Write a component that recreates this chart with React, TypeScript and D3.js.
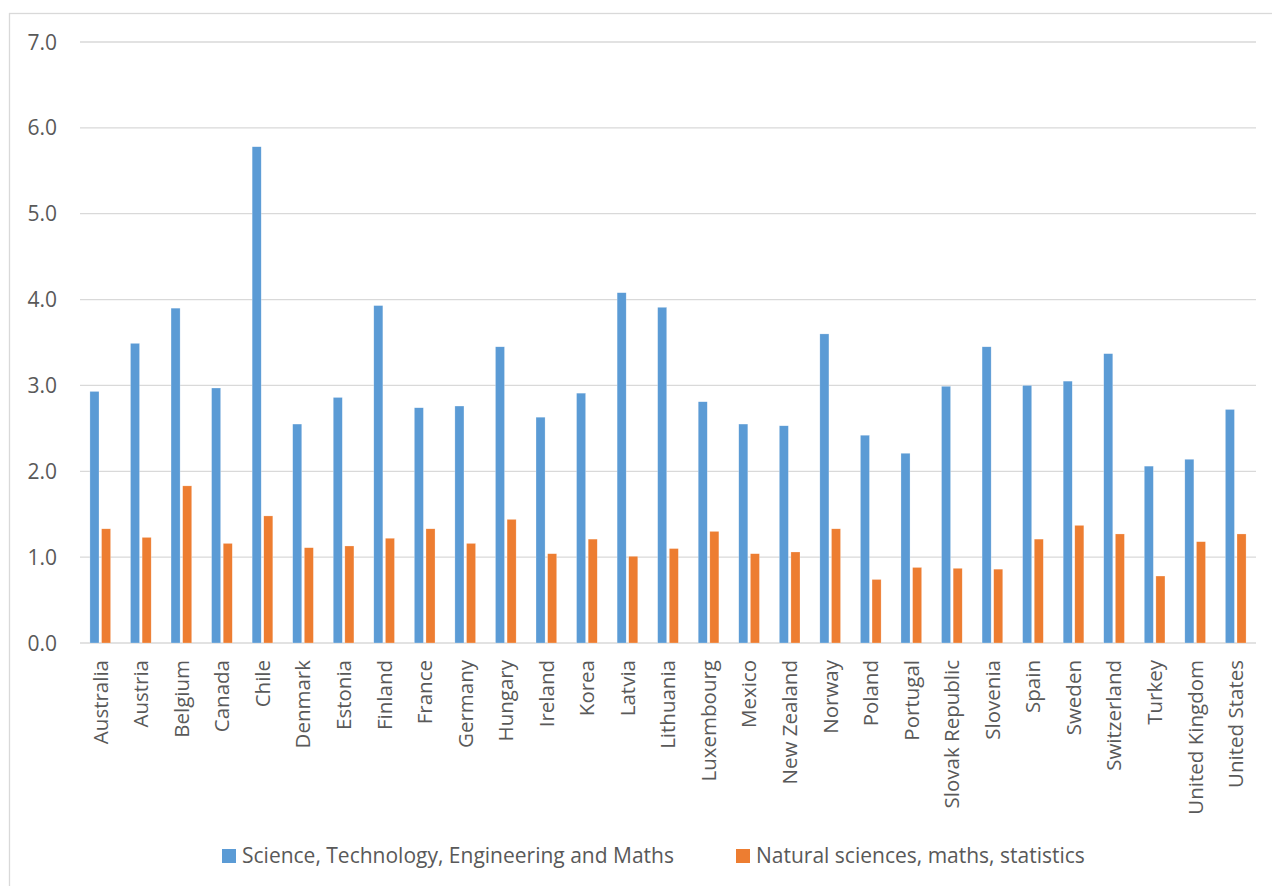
import React from "react";
import * as d3 from "d3";

const categories = [
  "Australia", "Austria", "Belgium", "Canada", "Chile", "Denmark", "Estonia", "Finland",
  "France", "Germany", "Hungary", "Ireland", "Korea", "Latvia", "Lithuania", "Luxembourg",
  "Mexico", "New Zealand", "Norway", "Poland", "Portugal", "Slovak Republic", "Slovenia",
  "Spain", "Sweden", "Switzerland", "Turkey", "United Kingdom", "United States",
];

const stem = [
  2.93, 3.49, 3.90, 2.97, 5.78, 2.55, 2.86, 3.93, 2.74, 2.76, 3.45, 2.63, 2.91, 4.08, 3.91,
  2.81, 2.55, 2.53, 3.60, 2.42, 2.21, 2.99, 3.45, 3.00, 3.05, 3.37, 2.06, 2.14, 2.72,
];

const natural = [
  1.33, 1.23, 1.83, 1.16, 1.48, 1.11, 1.13, 1.22, 1.33, 1.16, 1.44, 1.04, 1.21, 1.01, 1.10,
  1.30, 1.04, 1.06, 1.33, 0.74, 0.88, 0.87, 0.86, 1.21, 1.37, 1.27, 0.78, 1.18, 1.27,
];

const seriesNames = [
  "Science, Technology, Engineering and Maths",
  "Natural sciences, maths, statistics",
];
const seriesColors = ["#5B9BD5", "#ED7D31"];
const yTicks = [0, 1, 2, 3, 4, 5, 6, 7];

const W = 1272;
const H = 886;
const FONT = "'Open Sans', sans-serif";
const TEXT = "#595959";

export default function App() {
  const x0 = d3
    .scaleBand<string>()
    .domain(categories)
    .range([80, 1256])
    .paddingInner(0.49)
    .paddingOuter(0.245);
  const x1 = d3
    .scaleBand<string>()
    .domain(seriesNames)
    .range([0, x0.bandwidth()])
    .paddingInner(0.22);
  const y = d3.scaleLinear().domain([0, 7]).range([643, 42]);
  const seriesData = [stem, natural];

  return (
    <svg
      width={W}
      height={H}
      style={{ position: "absolute", left: 0, top: 0, background: "#fff" }}
      fontFamily={FONT}
    >
      <rect x={0} y={0} width={W} height={H} fill="#fff" />
      <rect x={9.5} y={13.5} width={1400} height={1000} fill="none" stroke="#D9D9D9" strokeWidth={1.3} />
      {yTicks.map((t) => (
        <g key={t}>
          <line x1={80} x2={1256} y1={y(t)} y2={y(t)} stroke="#D9D9D9" strokeWidth={t === 0 ? 1.6 : 1.3} />
          <text x={57} y={y(t)} dy="0.36em" textAnchor="end" fontSize={21} fill={TEXT}>
            {t.toFixed(1)}
          </text>
        </g>
      ))}
      {seriesData.map((vals, si) =>
        vals.map((v, i) => {
          const bx = (x0(categories[i]) as number) + (x1(seriesNames[si]) as number);
          return (
            <rect
              key={`${si}-${i}`}
              x={bx}
              y={y(v)}
              width={x1.bandwidth()}
              height={y(0) - y(v)}
              fill={seriesColors[si]}
              stroke="#ffffff"
              strokeOpacity={0.5}
              strokeWidth={0.5}
            />
          );
        })
      )}
      {categories.map((c) => {
        const cx = (x0(c) as number) + x0.bandwidth() / 2;
        return (
          <text
            key={c}
            transform={`translate(${cx},660) rotate(-90)`}
            dy="0.36em"
            textAnchor="end"
            fontSize={20.5}
            fill={TEXT}
          >
            {c}
          </text>
        );
      })}
      {[222, 736].map((lx, si) => (
        <g key={si}>
          <rect x={lx} y={849} width={14} height={14} fill={seriesColors[si]} />
          <text x={lx + 20} y={863} fontSize={21} fill={TEXT}>
            {seriesNames[si]}
          </text>
        </g>
      ))}
    </svg>
  );
}
